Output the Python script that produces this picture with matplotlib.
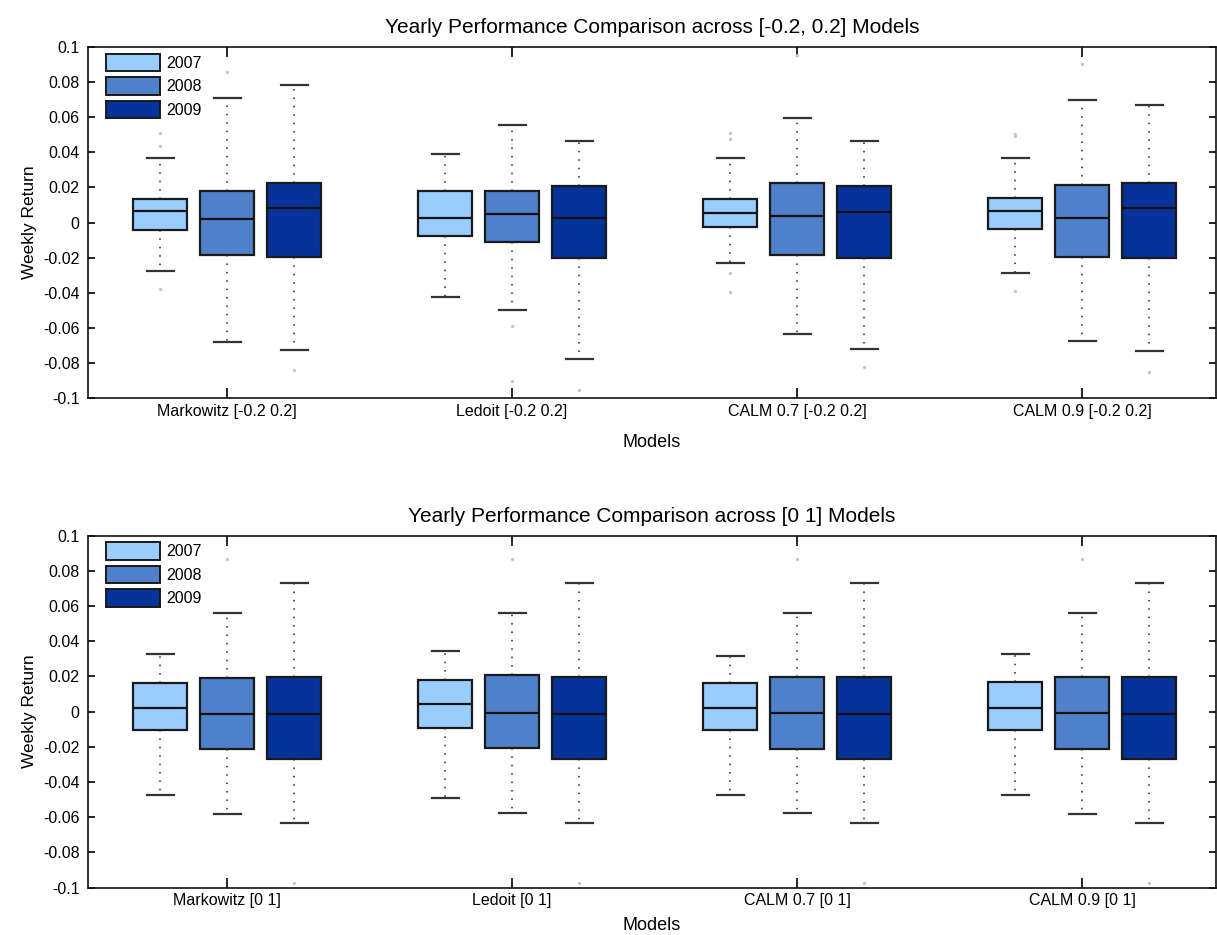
import matplotlib
matplotlib.use('Agg')
import matplotlib.pyplot as plt
from matplotlib.patches import Patch

plt.rcParams['font.family'] = ['Liberation Sans', 'DejaVu Sans']

years = ['2007', '2008', '2009']
year_colors = ['#99CCFF', '#4F81CB', '#063399']

top_title = 'Yearly Performance Comparison across [-0.2, 0.2] Models'
top_models = ['Markowitz [-0.2 0.2]', 'Ledoit [-0.2 0.2]', 'CALM 0.7 [-0.2 0.2]', 'CALM 0.9 [-0.2 0.2]']
# one row per model, one column per year
top_med = [[0.0066, 0.0021, 0.0085], [0.0028, 0.0049, 0.0028], [0.0057, 0.0040, 0.0059], [0.0066, 0.0028, 0.0085]]
top_q1 = [[-0.0045, -0.0183, -0.0196], [-0.0074, -0.0109, -0.0204], [-0.0026, -0.0185, -0.0204], [-0.0036, -0.0194, -0.0204]]
top_q3 = [[0.0133, 0.0178, 0.0225], [0.0178, 0.0178, 0.0208], [0.0134, 0.0225, 0.0208], [0.0140, 0.0215, 0.0225]]
top_lo = [[-0.0275, -0.0683, -0.0729], [-0.0423, -0.0499, -0.0778], [-0.0230, -0.0636, -0.0721], [-0.0287, -0.0676, -0.0731]]
top_hi = [[0.0367, 0.0707, 0.0782], [0.0393, 0.0558, 0.0467], [0.0365, 0.0595, 0.0467], [0.0365, 0.0697, 0.0671]]
top_fliers = [
	[[0.0512, 0.0436, -0.0380], [0.0856], [-0.0842]],
	[[], [-0.0589, -0.0904], [-0.0952]],
	[[0.0512, 0.0474, -0.0285, -0.0394], [0.0956], [-0.0825]],
	[[0.0505, 0.0493, -0.0389], [0.0903], [-0.0850]],
]

bot_title = 'Yearly Performance Comparison across [0 1] Models'
bot_models = ['Markowitz [0 1]', 'Ledoit [0 1]', 'CALM 0.7 [0 1]', 'CALM 0.9 [0 1]']
bot_med = [[0.0019, -0.0015, -0.0015], [0.0042, -0.0007, -0.0015], [0.0019, -0.0007, -0.0015], [0.0019, -0.0007, -0.0015]]
bot_q1 = [[-0.0102, -0.0212, -0.0269], [-0.0091, -0.0205, -0.0269], [-0.0102, -0.0212, -0.0269], [-0.0102, -0.0212, -0.0269]]
bot_q3 = [[0.0161, 0.0190, 0.0199], [0.0178, 0.0207, 0.0199], [0.0161, 0.0199, 0.0199], [0.0170, 0.0199, 0.0199]]
bot_lo = [[-0.0472, -0.0583, -0.0631], [-0.0490, -0.0574, -0.0631], [-0.0472, -0.0574, -0.0631], [-0.0472, -0.0583, -0.0631]]
bot_hi = [[0.0328, 0.0561, 0.0730], [0.0347, 0.0561, 0.0730], [0.0318, 0.0561, 0.0730], [0.0328, 0.0561, 0.0730]]
bot_fliers = [
	[[], [0.0866], [-0.0972]],
	[[], [0.0866], [-0.0972]],
	[[], [0.0866], [-0.0972]],
	[[], [0.0866], [-0.0972]],
]

yticks = [-0.1, -0.08, -0.06, -0.04, -0.02, 0, 0.02, 0.04, 0.06, 0.08, 0.1]
ytick_labels = ['-0.1', '-0.08', '-0.06', '-0.04', '-0.02', '0', '0.02', '0.04', '0.06', '0.08', '0.1']

offsets = [-0.235, 0.0, 0.235]


def draw_panel(ax, title, models, med, q1, q3, lo, hi, fliers, xlabel_pad) :
	for k in range(3) :
		stats, pos = [], []
		for g in range(len(models)) :
			stats.append(dict(med=med[g][k], q1=q1[g][k], q3=q3[g][k],
				whislo=lo[g][k], whishi=hi[g][k], fliers=fliers[g][k]))
			pos.append(g + 1 + offsets[k])
		ax.bxp(stats, positions=pos, widths=0.19, capwidths=0.095, patch_artist=True,
			manage_ticks=False,
			boxprops=dict(facecolor=year_colors[k], edgecolor='#1a1a1a', linewidth=1.6),
			medianprops=dict(color='#111111', linewidth=1.6),
			whiskerprops=dict(color='#222222', linewidth=1.1, linestyle=(0, (1, 4.5))),
			capprops=dict(color='#333333', linewidth=1.6),
			flierprops=dict(marker='o', markersize=1.3, markerfacecolor='#c4c4c4',
				markeredgecolor='#c4c4c4', linestyle='none'))

	ax.set_xlim(0.512, 4.47)
	ax.set_ylim(-0.1, 0.1)
	ax.set_yticks(yticks)
	ax.set_yticklabels(ytick_labels)
	ax.set_xticks(range(1, len(models) + 1))
	ax.set_xticklabels(models)
	ax.tick_params(axis='x', direction='in', length=7.5, width=1.2, top=True, labelsize=11.5, pad=4)
	ax.tick_params(axis='y', direction='in', length=5, width=1.2, right=True, labelsize=11.5, pad=6)
	for sp in ax.spines.values() :
		sp.set_linewidth(1.2)
		sp.set_color('#111111')
	ax.set_title(title, fontsize=15, pad=10)
	ax.set_xlabel('Models', fontsize=13, labelpad=xlabel_pad)
	ax.set_ylabel('Weekly Return', fontsize=12.5, labelpad=4)

	handles = [Patch(facecolor=year_colors[k], edgecolor='#1a1a1a', linewidth=1.4, label=years[k]) for k in range(3)]
	ax.legend(handles=handles, loc='upper left', bbox_to_anchor=(0.013, 0.99), frameon=False, fontsize=11.5,
		handlelength=3.4, handleheight=1.3, labelspacing=0.38, handletextpad=0.4,
		borderaxespad=0.0, borderpad=0.2)


fig = plt.figure(figsize=(12.17, 9.35), dpi=100)
ax_top = fig.add_axes([0.0723, 0.5743, 0.9269, 0.3754])
ax_bot = fig.add_axes([0.0723, 0.0506, 0.9269, 0.3765])

draw_panel(ax_top, top_title, top_models, top_med, top_q1, top_q3, top_lo, top_hi, top_fliers, 11)
draw_panel(ax_bot, bot_title, bot_models, bot_med, bot_q1, bot_q3, bot_lo, bot_hi, bot_fliers, 6)

fig.savefig('out.png', dpi=100)
